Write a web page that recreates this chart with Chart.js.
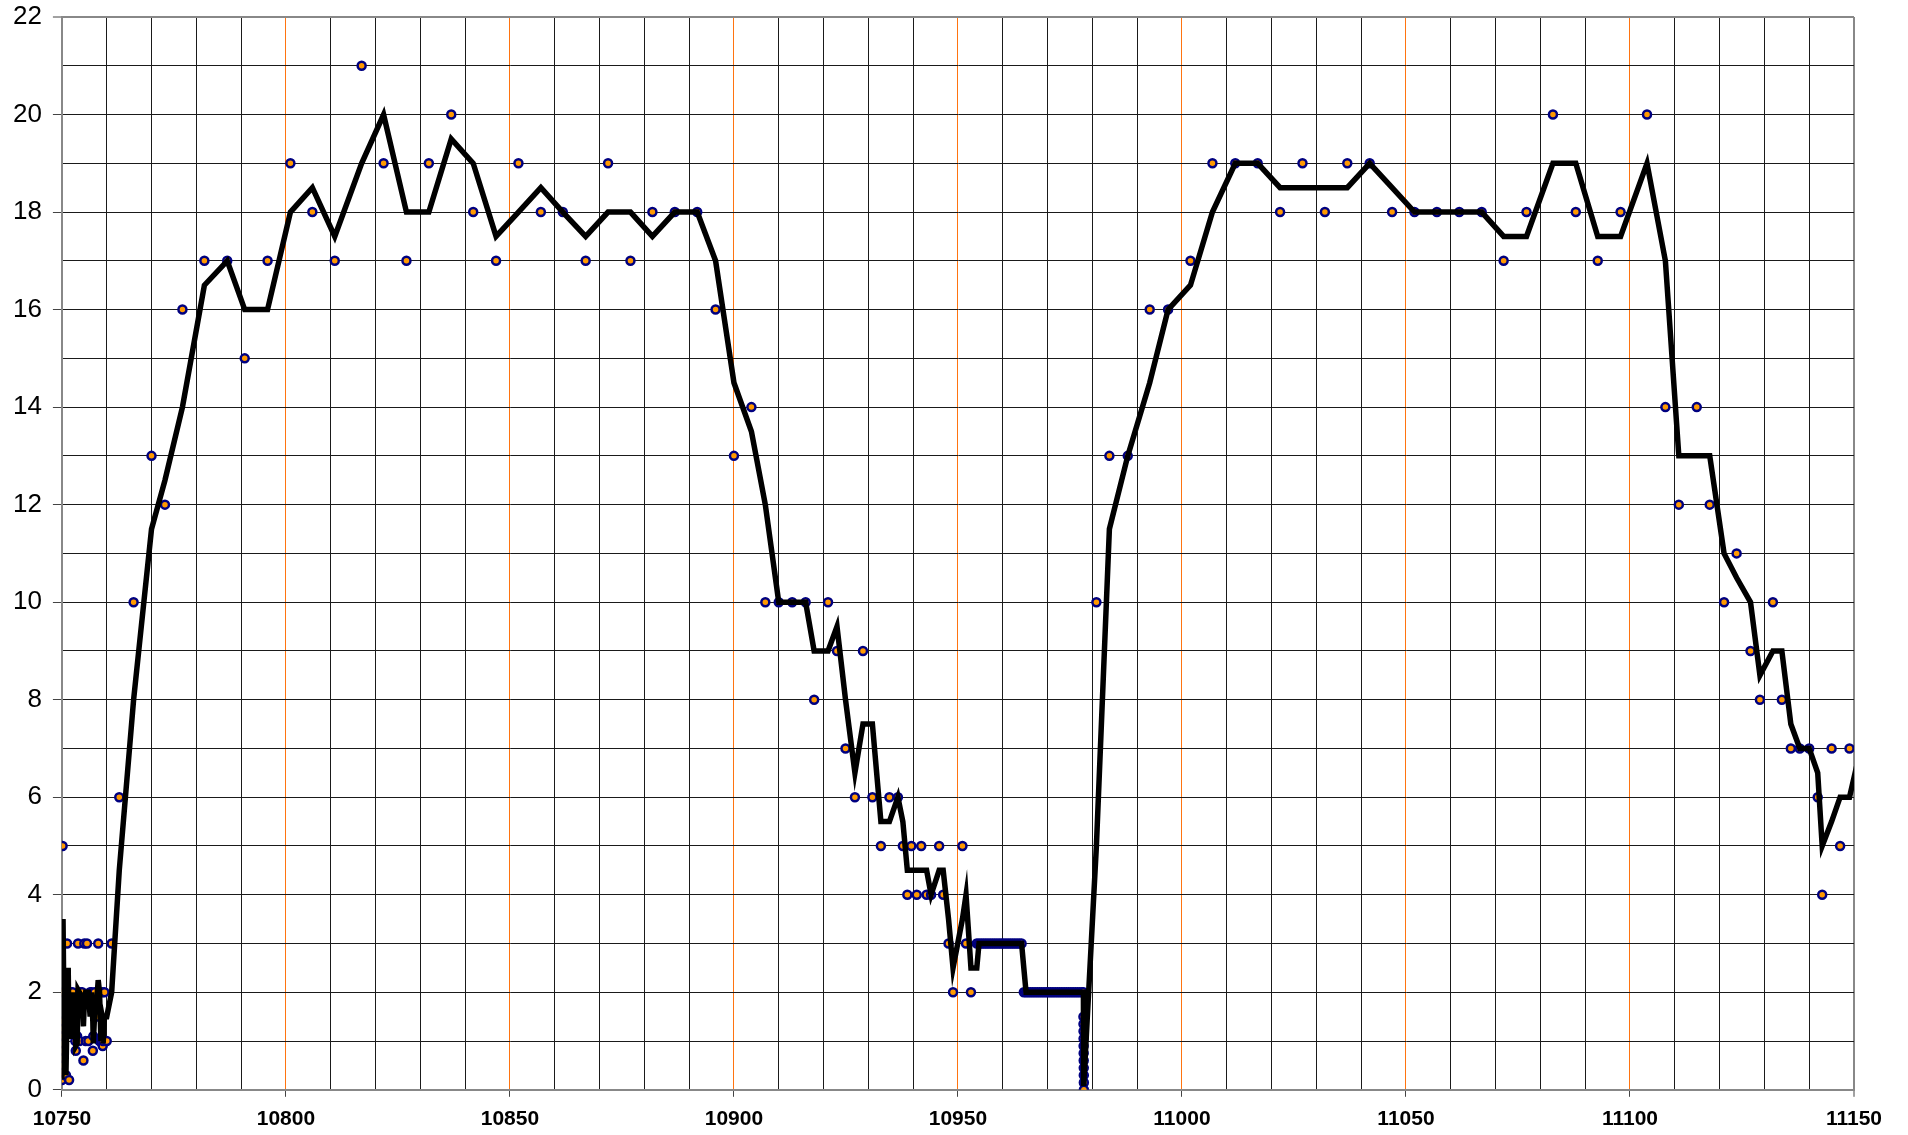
<!DOCTYPE html>
<html><head><meta charset="utf-8">
<script src="https://cdn.jsdelivr.net/npm/chart.js@4.4.1/dist/chart.umd.min.js"></script>
<style>html,body{margin:0;padding:0;background:#fff;overflow:hidden;}canvas{display:block;}</style>
</head><body>
<canvas id="c" width="1908" height="1135"></canvas>
<script>
// ---- data ----
const pointX = [
  10750.00,10750.00,10750.01,10750.02,10750.03,10750.04,10750.05,10750.07,10750.09,10750.15,
  10750.25,10750.50,10750.90,10751.15,
  10751.40,10751.60,10752.00,10752.40,10753.00,10753.10,10753.40,10753.60,10753.90,10754.20,
  10754.50,10754.80,10755.00,10755.30,10755.60,10755.90,10756.30,10756.60,10756.90,10757.00,
  10757.30,10757.70,10758.10,10758.40,10758.70,10759.00,10759.10,10759.20,10759.50,10760.00,
  10761.10,
  10762.8,10766.0,10770.0,10773.0,10776.9,10781.8,10786.9,10790.8,10795.9,10801.0,
  10805.9,10810.9,10816.9,10821.8,10826.9,10831.9,10836.9,10841.8,10846.9,10851.9,
  10856.9,10861.8,10866.9,10871.9,10876.9,10881.8,10886.8,10891.8,10895.9,
  10900.0,10903.9,10907.0,10910.0,10913.0,10916.0,10917.9,10921.0,10923.0,10924.9,
  10927.0,10928.8,10930.9,10932.8,10934.7,10936.6,10937.7,10938.7,10939.6,10940.8,
  10941.8,10943.0,10944.0,10945.8,10946.7,10947.9,10948.9,10951.0,10951.8,10952.9,
  10954.2,
  10954.7,10955.2,10955.7,10956.2,10956.7,10957.2,10957.7,10958.2,10958.7,10959.2,
  10959.7,10960.2,10960.7,10961.2,10961.7,10962.2,10962.7,10963.2,10963.7,10964.2,
  10964.7,10965.2,10965.7,10966.2,10966.7,10967.2,10967.7,10968.2,10968.7,10969.2,
  10969.7,10970.2,10970.7,10971.2,10971.7,10972.2,10972.7,10973.2,10973.7,10974.2,
  10974.7,10975.2,10975.7,10976.2,10976.7,10977.2,10977.7,10978.0,
  10978.01,10978.02,10978.03,10978.04,10978.05,10978.06,10978.07,10978.08,10978.09,10978.1,10978.11,
  10980.9,10983.8,10987.9,10992.8,10996.9,11001.9,11006.8,11011.9,11016.9,11021.9,
  11026.9,11031.9,11036.9,11041.9,11046.9,11051.9,11056.9,11061.9,11066.9,11071.8,
  11076.9,11082.8,11087.9,11092.8,11097.9,11103.8,11107.9,11110.9,11114.9,11117.8,
  11121.0,11123.8,11126.9,11129.0,11131.9,11133.9,11135.9,11137.9,11140.0,11141.9,
  11142.9,11145.0,11146.9,11149.0,11151.5
];
const pointY = [
  0.2,0.35,0.5,0.65,0.8,0.95,1.1,1.25,1.4,5,
  2,0.3,0.3,3,
  2,0.2,2,2,1.0,0.8,1.1,3,1.0,2,
  2,0.6,3,1.0,3,1.0,2,2,0.8,1.1,
  2,1.5,3,1.0,1.0,2,0.9,1.0,2,1.0,
  3,
  6,10,13,12,16,17,17,15,17,19,
  18,17,21,19,17,19,20,18,17,19,
  18,18,17,19,17,18,18,18,16,
  13,14,10,10,10,10,8,10,9,7,
  6,9,6,5,6,6,5,4,5,4,
  5,4,4,5,4,3,2,5,3,2,
  3,
  3,3,3,3,3,3,3,3,3,3,
  3,3,3,3,3,3,3,3,3,3,
  2,2,2,2,2,2,2,2,2,2,
  2,2,2,2,2,2,2,2,2,2,
  2,2,2,2,2,2,2,2,
  1.5,1.35,1.2,1.05,0.9,0.75,0.6,0.45,0.3,0.15,0,
  10,13,13,16,16,17,19,19,19,18,
  19,18,19,19,18,18,18,18,18,17,
  18,20,18,17,18,20,14,12,14,12,
  10,11,9,8,10,8,7,7,7,6,
  4,7,5,7,7
];
// moving-average trend line values (as drawn), one per point
const trendY = [
  null,0.275,0.425,0.575,0.725,0.875,1.025,1.175,1.325,3.2,
  3.5,1.15,0.3,1.65,
  2.5,1.1,1.1,2,1.5,0.9,0.95,2.05,2,1.5,
  2,1.3,1.8,2,2,2,1.5,2,1.4,0.95,
  1.55,1.75,2.25,2,1,1.5,1.45,0.95,1.5,1.5,
  2,
  4.5,8,11.5,12.5,14,16.5,17,16,16,18,
  18.5,17.5,19,20,18,18,19.5,19,17.5,18,
  18.5,18,17.5,18,18,17.5,18,18,17,
  14.5,13.5,12,10,10,10,9,9,9.5,8,
  6.5,7.5,7.5,5.5,5.5,6,5.5,4.5,4.5,4.5,
  4.5,4.5,4,4.5,4.5,3.5,2.5,3.5,4,2.5,
  2.5,
  3,3,3,3,3,3,3,3,3,3,
  3,3,3,3,3,3,3,3,3,3,
  2.5,2,2,2,2,2,2,2,2,2,
  2,2,2,2,2,2,2,2,2,2,
  2,2,2,2,2,2,2,2,
  1.75,1.425,1.275,1.125,0.975,0.825,0.675,0.525,0.375,0.225,0.075,
  5,11.5,13,14.5,16,16.5,18,19,19,18.5,
  18.5,18.5,18.5,19,18.5,18,18,18,18,17.5,
  17.5,19,19,17.5,17.5,19,17,13,13,13,
  11,10.5,10,8.5,9,9,7.5,7,7,6.5,
  5,5.5,6,6,7
];
const xRange = [10750, 11150];
const xGridStep = 10, xLabelStep = 50;
const yRange = [0, 22];
const yGridStep = 1, yLabelStep = 2;

if (pointX.length !== pointY.length || pointX.length !== trendY.length) {
  console.error('length mismatch', pointX.length, pointY.length, trendY.length);
}

const scatterData = pointX.map((x, i) => ({x, y: pointY[i]}));
const trendData = pointX.map((x, i) => ({x, y: trendY[i]})).filter(p => p.y !== null);

Chart.defaults.font.family = "'Liberation Sans', Arial, sans-serif";

new Chart(document.getElementById('c'), {
  type: 'scatter',
  data: {
    datasets: [
      {
        data: trendData, showLine: true, borderColor: '#000', borderWidth: 5.5,
        pointRadius: 0, borderJoinStyle: 'miter', tension: 0, order: 0
      },
      {
        data: scatterData, showLine: false, pointRadius: 4, pointBorderWidth: 2.5,
        pointBackgroundColor: '#ff9900', pointBorderColor: '#000080', order: 1
      }
    ]
  },
  options: {
    responsive: false, animation: false, devicePixelRatio: 1,
    layout: {padding: {left: 2, right: 54, top: 17, bottom: -7}},
    plugins: {legend: {display: false}, tooltip: {enabled: false}},
    scales: {
      x: {
        type: 'linear', min: xRange[0], max: xRange[1],
        ticks: {
          stepSize: xGridStep, autoSkip: false, maxRotation: 0, minRotation: 0,
          color: '#000', padding: 10,
          font: {size: 21, weight: 'bold'},
          callback: v => (v % xLabelStep === 0 ? String(v) : '')
        },
        grid: {
          color: c => {
            const v = c.tick.value;
            if (v === xRange[1]) return '#888';
            if (v % xLabelStep === 0 && v !== xRange[0]) return '#ff7410';
            return '#1a1a1a';
          },
          lineWidth: c => (c.tick.value === xRange[1] ? 2 : 1),
          tickColor: c => (c.tick.value % xLabelStep === 0 ? '#444' : 'rgba(0,0,0,0)'),
          tickLength: 7, tickWidth: 1
        },
        border: {color: '#888', width: 2}
      },
      y: {
        min: yRange[0], max: yRange[1],
        afterFit: s => { s.paddingTop = 0; s.paddingBottom = 0; },
        ticks: {
          stepSize: yGridStep, autoSkip: false, color: '#000', padding: 11,
          font: {size: 26},
          callback: v => (v % yLabelStep === 0 ? String(v) : '')
        },
        grid: {
          color: c => (c.tick.value === yRange[1] ? '#888' : '#1a1a1a'),
          lineWidth: c => (c.tick.value === yRange[1] ? 2 : 1),
          tickColor: c => (c.tick.value % yLabelStep === 0 ? '#444' : 'rgba(0,0,0,0)'),
          tickLength: 9, tickWidth: 1
        },
        border: {color: '#888', width: 2}
      }
    }
  }
});
</script>
</body></html>
